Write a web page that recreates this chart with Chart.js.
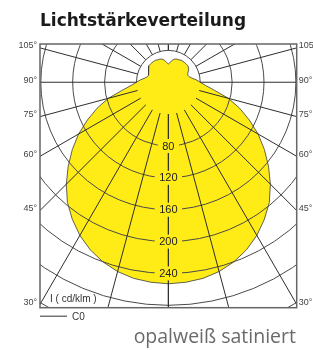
<!DOCTYPE html>
<html>
<head>
<meta charset="utf-8">
<script src="https://cdn.jsdelivr.net/npm/chart.js@4.4.1/dist/chart.umd.min.js"></script>
<style>
  html, body { margin: 0; padding: 0; background: #fff; }
  #wrap { position: relative; width: 313px; height: 350px; overflow: hidden; }
  #ldc { position: absolute; left: 0; top: 0; }
  .title { position: absolute; left: 40px; top: 10px; font: bold 17px "DejaVu Sans"; line-height: 20px; color: #1a1a1a; white-space: nowrap; }
  .sub { position: absolute; right: 17px; top: 326px; font: 400 19.5px "Open Sans"; line-height: 20px; color: #6a6a6a; white-space: nowrap; }
</style>
</head>
<body>
<div id="wrap">
  <canvas id="ldc" width="313" height="350"></canvas>
  <div class="title">Lichtstärkeverteilung</div>
  <div class="sub">opalweiß satiniert</div>
</div>
<script>
// C0 plane, gamma measured from straight down
const gammaDeg = [0, 5, 10, 15, 20, 25, 30, 35, 40, 45, 50, 55, 60, 65, 70, 75, 80, 85, 90,
  95, 100, 105, 110, 115, 120, 125, 130, 135, 140, 145, 150, 155, 160, 165, 170, 175, 180];
const intensityC0 = [253, 252, 250, 246, 240, 232, 222, 210, 197, 181, 164, 147, 130, 112, 95, 78, 59, 47, 40,
  35, 30, 27, 26, 27, 29, 31, 32, 32, 32, 32, 32, 31, 31, 30, 28, 25, 23];

const ringValues = [80, 120, 160, 200, 240, 280, 320];
const ringLabels = [80, 120, 160, 200, 240];
const spokeDeg = [0, 15, 30, 45, 60, 75, 90, 105, 120, 135, 150, 165, 180];
const edgeTickDeg = [30, 45, 60, 75, 90, 105];
const unitLabel = "I ( cd/klm )";
const planeLabel = "C0";

const rad = (d) => (d * Math.PI) / 180;

// closed outline: right half down->up, then left half back down
const curve = [];
gammaDeg.forEach((g, k) => {
  curve.push({ x: intensityC0[k] * Math.sin(rad(g)), y: -intensityC0[k] * Math.cos(rad(g)) });
});
for (let k = gammaDeg.length - 2; k >= 0; k--) {
  const g = gammaDeg[k];
  curve.push({ x: -intensityC0[k] * Math.sin(rad(g)), y: -intensityC0[k] * Math.cos(rad(g)) });
}

const gridPlugin = {
  id: "ldcGrid",
  afterDatasetsDraw(chart) {
    const { ctx, chartArea: a, scales } = chart;
    const xs = scales.x, ys = scales.y;
    const px = (v) => xs.getPixelForValue(v);
    const py = (v) => ys.getPixelForValue(v);
    const ox = px(0), oy = py(0);
    const kx = px(1) - ox, ky = oy - py(1);

    ctx.save();
    ctx.beginPath();
    ctx.rect(a.left, a.top, a.right - a.left, a.bottom - a.top);
    ctx.clip();

    // rings
    ctx.strokeStyle = "#4a4a4a";
    ctx.lineWidth = 1;
    ringValues.forEach((v) => {
      ctx.beginPath();
      ctx.ellipse(ox, oy, v * kx, v * ky, 0, 0, Math.PI * 2);
      ctx.stroke();
    });
    ctx.beginPath();
    ctx.ellipse(ox, oy, 40 * kx, 40 * ky, 0, Math.PI, Math.PI * 2);
    ctx.stroke();

    // spokes, starting at the 40 ring
    ctx.strokeStyle = "#2e2e2e";
    spokeDeg.forEach((g) => {
      [1, -1].forEach((s) => {
        const sx = s * Math.sin(rad(g)), sy = -Math.cos(rad(g));
        ctx.beginPath();
        ctx.moveTo(px(40 * sx), py(40 * sy));
        ctx.lineTo(px(700 * sx), py(700 * sy));
        ctx.stroke();
      });
    });

    // intensity labels on the 0 deg axis
    ctx.font = '11px "Liberation Sans"';
    ctx.textAlign = "center";
    ctx.textBaseline = "middle";
    ringLabels.forEach((v) => {
      const t = String(v);
      const w = ctx.measureText(t).width;
      const cy = py(-v);
      ctx.fillStyle = "#ffec17";
      ctx.fillRect(ox - w / 2 - 4.5, cy - 7, w + 9, 14);
      ctx.fillStyle = "#222";
      ctx.fillText(t, ox, cy + 0.5);
    });
    ctx.restore();

    // frame
    ctx.save();
    ctx.strokeStyle = "#666";
    ctx.lineWidth = 1.5;
    ctx.strokeRect(a.left, a.top, a.right - a.left, a.bottom - a.top);

    // angle labels on both edges
    ctx.font = '9px "Liberation Sans"';
    ctx.fillStyle = "#444";
    ctx.textBaseline = "alphabetic";
    edgeTickDeg.forEach((g) => {
      const yv = -xs.max * Math.cos(rad(g)) / Math.sin(rad(g));
      const yy = py(yv) + 0.5;
      ctx.textAlign = "right";
      ctx.fillText(g + "°", a.left - 3, yy);
      ctx.textAlign = "left";
      ctx.fillText(g + "°", a.right + 2, yy);
    });

    // unit label and legend
    ctx.font = '10px "Liberation Sans"';
    ctx.fillStyle = "#333";
    ctx.textAlign = "left";
    ctx.fillText(unitLabel, a.left + 10, a.bottom - 6);
    ctx.strokeStyle = "#333";
    ctx.lineWidth = 1;
    ctx.beginPath();
    ctx.moveTo(a.left, a.bottom + 8.5);
    ctx.lineTo(a.left + 27, a.bottom + 8.5);
    ctx.stroke();
    ctx.fillText(planeLabel, a.left + 32, a.bottom + 12.5);
    ctx.restore();
  }
};

new Chart(document.getElementById("ldc"), {
  type: "scatter",
  data: {
    datasets: [{
      data: curve,
      showLine: true,
      fill: "shape",
      clip: false,
      backgroundColor: "#ffec17",
      borderColor: "#3a3a3a",
      borderWidth: 0.8,
      pointRadius: 0,
      tension: 0
    }]
  },
  options: {
    responsive: false,
    animation: false,
    devicePixelRatio: 1,
    layout: { padding: { left: 40, right: 16.3, top: 44, bottom: 42.3 } },
    scales: {
      x: { type: "linear", min: -161, max: 161, display: false },
      y: { type: "linear", min: -283, max: 48, display: false }
    },
    plugins: { legend: { display: false }, tooltip: { enabled: false } },
    events: []
  },
  plugins: [gridPlugin]
});
</script>
</body>
</html>
